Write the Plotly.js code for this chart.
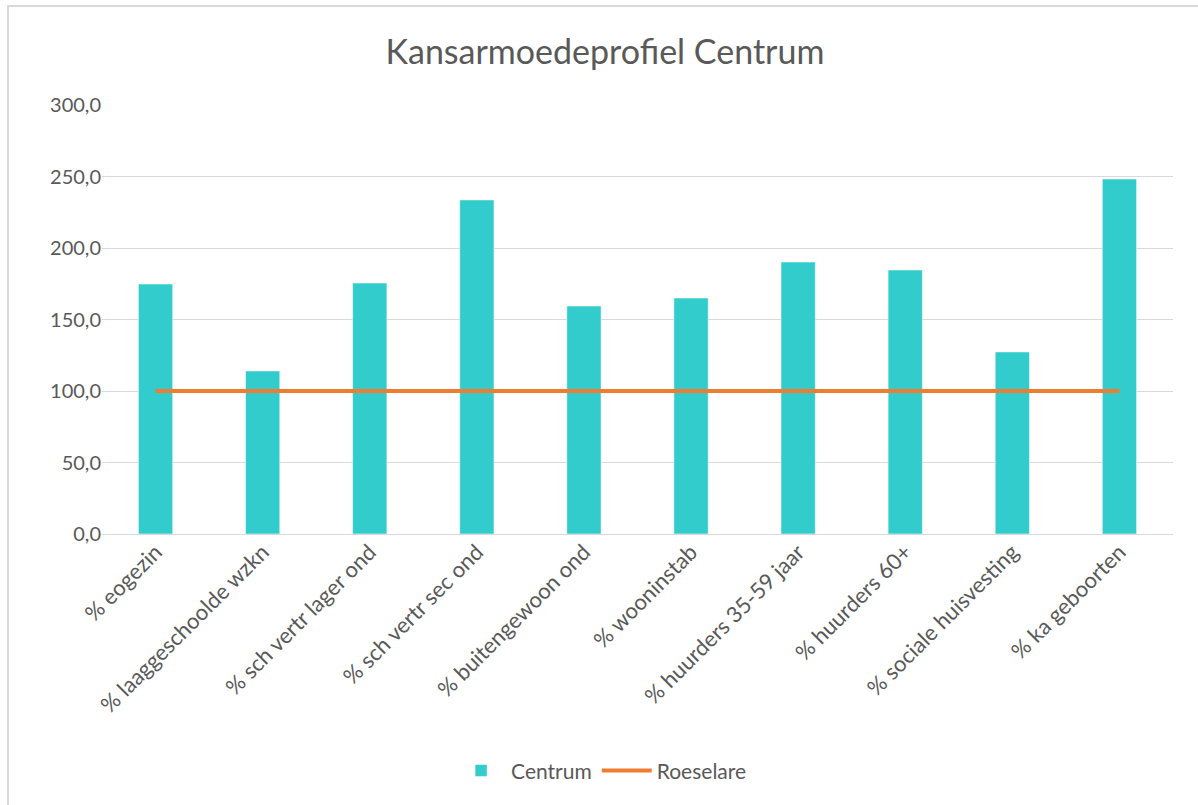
<!DOCTYPE html>
<html>
<head>
<meta charset="utf-8">
<script src="https://cdn.plot.ly/plotly-3.0.1.min.js"></script>
<style>
  html, body { margin: 0; padding: 0; background: #ffffff; }
  #wrap { position: relative; width: 1198px; height: 805px; }
  #chart { width: 1198px; height: 805px; }
  #frame { position: absolute; left: 7px; top: 5px; width: 1191px; height: 800px;
           border-left: 2px solid #d9d9d9; border-top: 2px solid #d9d9d9; pointer-events: none; box-sizing: border-box; }
</style>
</head>
<body>
<div id="wrap">
  <div id="chart"></div>
  <div id="frame"></div>
</div>
<script>
const categories = ["% eogezin", "% laaggeschoolde wzkn", "% sch vertr lager ond", "% sch vertr sec ond",
  "% buitengewoon ond", "% wooninstab", "% huurders 35-59 jaar", "% huurders 60+",
  "% sociale huisvesting", "% ka geboorten"];
const centrum = [174.8, 114.0, 175.5, 233.6, 159.4, 165.0, 190.2, 184.6, 127.3, 248.2];
const roeselare = [100, 100, 100, 100, 100, 100, 100, 100, 100, 100];

const fontFam = "Lato, 'Open Sans', sans-serif";
const grey = "#595959";

const traces = [
  { type: "bar", name: "Centrum", x: categories, y: centrum,
    marker: { color: "#33CCCC", line: { color: "rgba(255,255,255,0.5)", width: 1 } } },
  { type: "scatter", mode: "lines", name: "Roeselare", x: categories, y: roeselare,
    line: { color: "#ED7D31", width: 4 } }
];

const layout = {
  width: 1198, height: 805,
  margin: { l: 102, r: 25, t: 105, b: 271 },
  paper_bgcolor: "#ffffff", plot_bgcolor: "#ffffff",
  separators: ",.",
  font: { family: fontFam, color: grey, size: 20 },
  title: { text: "Kansarmoedeprofiel Centrum", font: { family: fontFam, size: 34, color: grey },
           x: 0.505, xanchor: "center", y: 0.935, yanchor: "middle" },
  bargap: 0.68,
  showlegend: true,
  legend: { orientation: "h", x: 0.466, xanchor: "center", y: -0.552, yanchor: "middle",
            itemwidth: 50, font: { family: fontFam, size: 21, color: grey }, traceorder: "normal" },
  xaxis: { type: "category", tickangle: -45, showgrid: false, zeroline: false, showline: false,
           ticks: "", tickfont: { family: fontFam, size: 22, color: grey } },
  yaxis: { range: [0, 300], dtick: 50, tickformat: ".1f", showgrid: true, gridcolor: "#d9d9d9",
           gridwidth: 1, zeroline: true, zerolinecolor: "#d9d9d9", zerolinewidth: 1, showline: false,
           ticks: "", ticklen: 0, tickfont: { family: fontFam, size: 20, color: grey } }
};

Plotly.newPlot("chart", traces, layout, { displayModeBar: false, staticPlot: true });
</script>
</body>
</html>
